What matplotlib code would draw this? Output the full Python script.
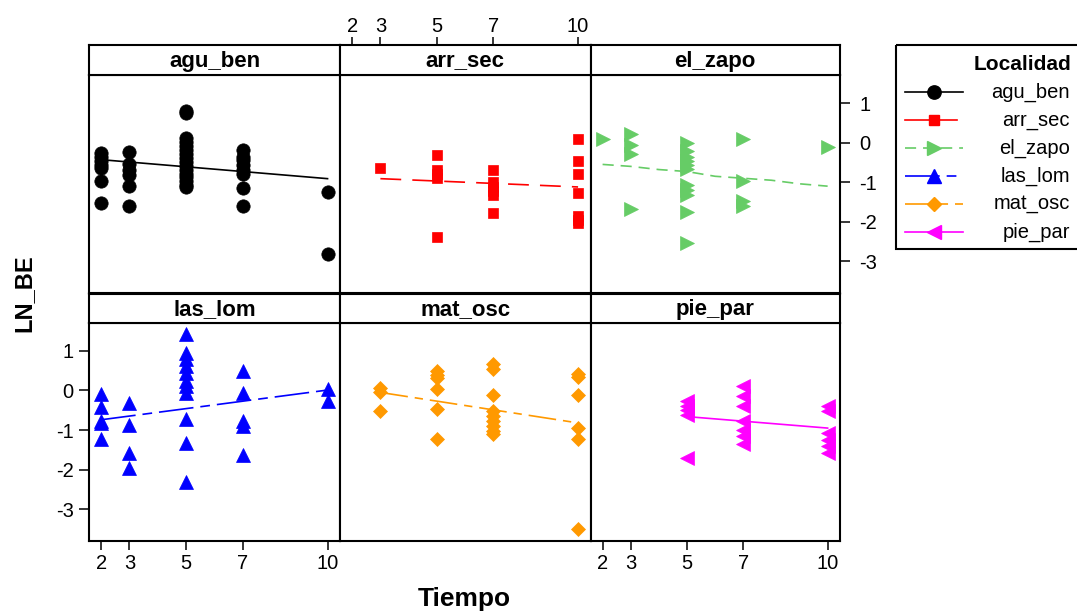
import matplotlib
matplotlib.use("Agg")
import matplotlib.pyplot as plt
from matplotlib.patches import Rectangle

plt.rcParams['font.family'] = ['Liberation Sans', 'DejaVu Sans']
plt.rcParams['lines.scale_dashes'] = False
plt.rcParams['axes.unicode_minus'] = False

# ---------------- data ----------------
groups = ["agu_ben", "arr_sec", "el_zapo", "las_lom", "mat_osc", "pie_par"]
colors = ["#000000", "#FF0000", "#66CC66", "#0000FF", "#FF9900", "#FF00FF"]
markers = ["o", "s", ">", "^", "D", "<"]
x_ticks = [2, 3, 5, 7, 10]
y_ticks = [-3, -2, -1, 0, 1]

# LN_BE values observed at each Tiempo, per Localidad
agu_ben = {2: [-0.27, -0.37, -0.47, -0.57, -0.63, -0.98, -1.53],
           3: [-0.24, -0.54, -0.68, -0.81, -1.10, -1.59],
           5: [0.80, 0.75, 0.12, 0.02, -0.08, -0.18, -0.28, -0.38, -0.48,
               -0.58, -0.68, -0.78, -0.88, -0.98, -1.08, -1.13],
           7: [-0.18, -0.35, -0.45, -0.56, -0.68, -0.80, -1.15, -1.59],
           10: [-1.25, -2.81]}
arr_sec = {3: [-0.64],
           5: [-0.31, -0.70, -0.80, -0.90, -2.38],
           7: [-0.68, -1.00, -1.12, -1.22, -1.32, -1.78],
           10: [0.09, -0.47, -0.79, -1.27, -1.86, -1.95, -2.03]}
el_zapo = {2: [0.09],
           3: [0.22, -0.05, -0.28, -1.68],
           5: [-0.01, -0.22, -0.35, -0.46, -0.56, -0.67, -1.06, -1.19, -1.32,
               -1.76, -2.54],
           7: [0.09, -0.98, -1.47, -1.59],
           10: [-0.11]}
las_lom = {2: [-0.10, -0.41, -0.76, -0.82, -1.22],
           3: [-0.31, -0.86, -1.58, -1.97],
           5: [1.42, 0.95, 0.80, 0.62, 0.45, 0.24, 0.11, -0.06, -0.72, -1.32,
               -2.30],
           7: [0.49, -0.06, -0.78, -0.89, -1.62],
           10: [0.04, -0.27]}
mat_osc = {3: [0.07, -0.04, -0.51],
           5: [0.49, 0.40, 0.32, 0.03, -0.46, -1.22],
           7: [0.66, 0.55, -0.12, -0.52, -0.65, -0.78, -0.90, -1.03, -1.11],
           10: [0.41, 0.35, -0.12, -0.94, -1.22, -3.49]}
pie_par = {5: [-0.27, -0.40, -0.50, -0.61, -1.70],
           7: [0.11, -0.14, -0.38, -0.78, -0.99, -1.16, -1.34],
           10: [-0.38, -0.52, -1.07, -1.24, -1.39, -1.58]}

# fitted trend lines per Localidad
fit_agu_ben = ([2, 10], [-0.43, -0.91])
fit_arr_sec = ([3, 5, 7, 10], [-0.91, -0.97, -1.03, -1.12])
fit_el_zapo = ([2, 3, 4, 5, 6, 7, 8, 9, 10],
               [-0.55, -0.60, -0.68, -0.73, -0.85, -0.90, -0.95, -1.04, -1.10])
fit_las_lom = ([2, 10], [-0.74, 0.01])
fit_mat_osc = ([3, 10], [-0.05, -0.82])
fit_pie_par = ([5, 10], [-0.66, -0.95])

data = [agu_ben, arr_sec, el_zapo, las_lom, mat_osc, pie_par]
fits = [fit_agu_ben, fit_arr_sec, fit_el_zapo, fit_las_lom, fit_mat_osc,
        fit_pie_par]

# ---------------- styles ----------------
dashes = [None, (15, 8), (8, 5), (25, 5, 7, 5), (20, 5, 6, 5), None]
msizes = [9.6, 7.2, 9.5, 9.5, 6.8, 9.5]

W, H = 1077, 613
fig = plt.figure(figsize=(W / 100, H / 100), dpi=100)


def ax_px(x0, y0, x1, y1, **kw):
    return fig.add_axes([x0 / W, 1 - y1 / H, (x1 - x0) / W, (y1 - y0) / H], **kw)


cols = [(89, 340), (340, 590.5), (590.5, 840)]
rows = [((45, 75), (75, 293)), ((294, 322.7), (322.7, 541))]
XLIM = (1.57, 10.44)
YLIM = (-3.8, 1.71)
FS_TICK = 14.5

for i, g in enumerate(groups):
    r, c = divmod(i, 3)
    (sy0, sy1), (py0, py1) = rows[r]
    cx0, cx1 = cols[c]
    ax = ax_px(cx0, py0, cx1, py1)
    ax.set_xlim(*XLIM)
    ax.set_ylim(*YLIM)
    for s in ax.spines.values():
        s.set_linewidth(1.5)
    ax.set_xticks([])
    ax.set_yticks([])

    d = data[i]
    xs, ys = [], []
    for t, vals in d.items():
        xs += [t] * len(vals)
        ys += vals
    fx, fy = fits[i]
    ln, = ax.plot(fx, fy, color=colors[i], lw=1.2)
    if dashes[i] is not None:
        ln.set_dashes(dashes[i])
    ax.plot(xs, ys, linestyle="none", marker=markers[i], ms=msizes[i],
            color=colors[i], mec=colors[i], mew=0.5, clip_on=False)

    # strip
    sax = ax_px(cx0, sy0, cx1, sy1)
    sax.set_xlim(*XLIM)
    sax.set_yticks([])
    sax.set_xticks([])
    for s in sax.spines.values():
        s.set_linewidth(1.5)
    sax.text(0.5, 0.45, g, transform=sax.transAxes, ha="center", va="center",
             fontsize=16, fontweight="bold")

    # lattice-style alternating axes
    if r == 0 and c == 1:
        sax.xaxis.tick_top()
        sax.set_xticks(x_ticks)
        sax.tick_params(axis="x", length=5.8, width=1.1, labelsize=FS_TICK,
                        pad=0.5)
    if r == 0 and c == 2:
        ax.yaxis.tick_right()
        ax.set_yticks(y_ticks)
        ax.tick_params(axis="y", length=7, width=1.1, labelsize=FS_TICK, pad=7)
    if r == 1 and c == 0:
        ax.set_yticks(y_ticks)
        ax.tick_params(axis="y", length=7.5, width=1.1, labelsize=FS_TICK,
                       pad=3.5)
    if r == 1 and c in (0, 2):
        ax.set_xticks(x_ticks)
        ax.tick_params(axis="x", length=6.5, width=1.1, labelsize=FS_TICK,
                       pad=3)

fig.text(23.5 / W, 1 - 293 / H, "LN_BE", rotation=90, ha="center",
         va="center", fontsize=17, fontweight="bold")
fig.text(464 / W, 1 - 599 / H, "Tiempo", ha="center", va="center",
         fontsize=19, fontweight="bold")

# ---------------- legend ----------------
lax = fig.add_axes([0, 0, 1, 1], zorder=10)
lax.set_xlim(0, W)
lax.set_ylim(H, 0)
lax.axis("off")
lax.add_patch(Rectangle((895.7, 45), 200, 204, fill=False, lw=1.5,
                        edgecolor="black", clip_on=False))
lax.text(1071, 65, "Localidad", ha="right", va="center", fontsize=15,
         fontweight="bold")
row_y = [92, 120, 148, 176, 203.5, 232]
for i, g in enumerate(groups):
    y = row_y[i]
    x_end = 957 if i == 1 else 963
    ln, = lax.plot([905, x_end], [y, y], color=colors[i], lw=1.2)
    if dashes[i] is not None and i != 1:
        ln.set_dashes(dashes[i])
    lax.plot([934], [y], marker=markers[i], ms=msizes[i], color=colors[i],
             linestyle="none")
    lax.text(1070, y, g, ha="right", va="center", fontsize=14.5)

fig.savefig("out.png", dpi=100)
